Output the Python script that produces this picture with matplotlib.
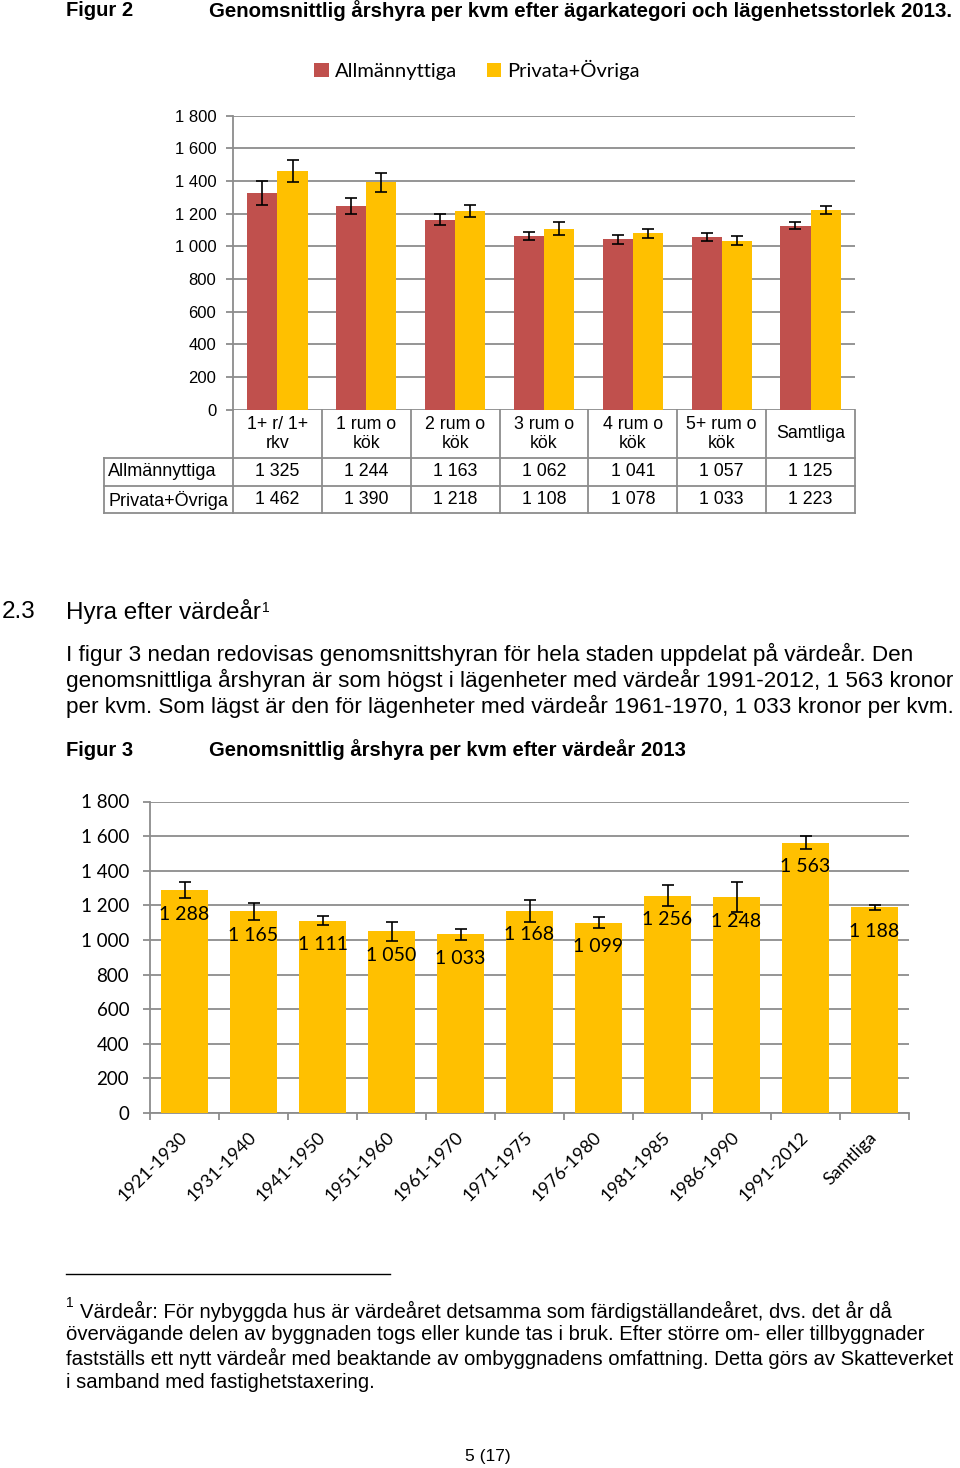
import matplotlib
matplotlib.use("Agg")
import matplotlib.pyplot as plt
import matplotlib.transforms as mtransforms
from matplotlib import font_manager

# ---------------- data ----------------
cats1 = ["1+ r/ 1+\nrkv", "1 rum o\nkök", "2 rum o\nkök", "3 rum o\nkök",
         "4 rum o\nkök", "5+ rum o\nkök", "Samtliga"]
allm = [1325, 1244, 1163, 1062, 1041, 1057, 1125]
priv = [1462, 1390, 1218, 1108, 1078, 1033, 1223]
allm_err = [75, 50, 35, 25, 30, 23, 20]
priv_err = [67, 58, 37, 37, 28, 27, 23]
series1 = ["Allmännyttiga", "Privata+Övriga"]

cats2 = ["1921-1930", "1931-1940", "1941-1950", "1951-1960", "1961-1970",
         "1971-1975", "1976-1980", "1981-1985", "1986-1990", "1991-2012", "Samtliga"]
vals2 = [1288, 1165, 1111, 1050, 1033, 1168, 1099, 1256, 1248, 1563, 1188]
err2 = [45, 50, 27, 54, 33, 65, 32, 62, 84, 35, 16]

yticks = [0, 200, 400, 600, 800, 1000, 1200, 1400, 1600, 1800]

RED = "#C0504D"
YEL = "#FFC000"
GRID = "#8c8c8c"

names = {f.name for f in font_manager.fontManager.ttflist}
ARIAL = "Liberation Sans"
NARROW = "Liberation Sans Narrow" if "Liberation Sans Narrow" in names else "Liberation Sans"
CAL = "Lato"


def fmt(v):
    return f"{int(v):,}".replace(",", " ")


W, H = 960, 1468
fig = plt.figure(figsize=(W / 100, H / 100), dpi=100)


def add_ax(l, t, r, b):
    return fig.add_axes([l / W, 1 - b / H, (r - l) / W, (b - t) / H])


# overlay in pixel coordinates
ov = fig.add_axes([0, 0, 1, 1], zorder=5)
ov.set_xlim(0, W)
ov.set_ylim(H, 0)
ov.axis("off")

# ---------------- Figure 2 ----------------
ax1 = add_ax(233, 115.5, 855, 409.5)
x1 = list(range(len(cats1)))
bw = 0.34
b_a = ax1.bar([i - bw / 2 for i in x1], allm, bw, color=RED, zorder=3, label=series1[0])
b_p = ax1.bar([i + bw / 2 for i in x1], priv, bw, color=YEL, zorder=3, label=series1[1])
ax1.errorbar([i - bw / 2 for i in x1], allm, yerr=allm_err, fmt="none", ecolor="black",
             elinewidth=1.2, capsize=4, capthick=1.2, zorder=4)
ax1.errorbar([i + bw / 2 for i in x1], priv, yerr=priv_err, fmt="none", ecolor="black",
             elinewidth=1.2, capsize=4, capthick=1.2, zorder=4)
ax1.set_xlim(-0.5, len(cats1) - 0.5)
ax1.set_ylim(0, 1800)
ax1.set_yticks(yticks)
ax1.set_yticklabels([fmt(v) for v in yticks], fontfamily=ARIAL, fontsize=12)
ax1.set_xticks([])
ax1.yaxis.grid(True, color=GRID, lw=1.3)
ax1.set_axisbelow(True)
for s in ["top", "right", "bottom"]:
    ax1.spines[s].set_visible(False)
ax1.spines["left"].set_color(GRID)
ax1.spines["left"].set_linewidth(1.3)
ax1.tick_params(axis="y", length=5, color=GRID, width=1.3, pad=7)

leg = ax1.legend(handles=[b_a, b_p], loc="center", bbox_to_anchor=(477 / W, 1 - 70 / H),
                 bbox_transform=fig.transFigure, ncol=2, frameon=False,
                 prop={"family": CAL, "size": 14.5}, handlelength=0.7, handleheight=0.7,
                 handletextpad=0.3, columnspacing=1.5)

# data table under chart
bt = mtransforms.blended_transform_factory(ax1.transData, ov.transData)
n1 = len(cats1)
for i in range(n1 + 1):
    ov.plot([i - 0.5, i - 0.5], [410, 512.5], color=GRID, lw=1.3, transform=bt, clip_on=False)
for yy in [457.5, 486, 512.5]:
    ov.plot([104, 233], [yy, yy], color=GRID, lw=1.3, clip_on=False)
    ov.plot([-0.5, n1 - 0.5], [yy, yy], color=GRID, lw=1.3, transform=bt, clip_on=False)
ov.plot([104, 104], [457.5, 512.5], color=GRID, lw=1.3, clip_on=False)
for i, c in enumerate(cats1):
    ov.text(i, 434, c, transform=bt, ha="center", va="center", fontfamily=ARIAL,
            fontsize=12.8, linespacing=1.15)
    ov.text(i, 472, fmt(allm[i]), transform=bt, ha="center", va="center",
            fontfamily=ARIAL, fontsize=12.8)
    ov.text(i, 500, fmt(priv[i]), transform=bt, ha="center", va="center",
            fontfamily=ARIAL, fontsize=12.8)
ov.text(108, 472, series1[0], ha="left", va="center", fontfamily=ARIAL, fontsize=13)
ov.text(108, 500, series1[1], ha="left", va="center", fontfamily=ARIAL, fontsize=13)

# ---------------- Figure 3 ----------------
ax2 = add_ax(150, 801.5, 909, 1113)
x2 = list(range(len(cats2)))
ax2.bar(x2, vals2, 0.667, color=YEL, zorder=3)
ax2.errorbar(x2, vals2, yerr=err2, fmt="none", ecolor="black", elinewidth=1.2,
             capsize=4, capthick=1.2, zorder=4)
for xi, v in zip(x2, vals2):
    ax2.annotate(fmt(v), (xi, v), xytext=(0, -24), textcoords="offset pixels",
                 ha="center", va="center", fontfamily=CAL, fontsize=14, zorder=5)
ax2.set_xlim(-0.5, len(cats2) - 0.5)
ax2.set_ylim(0, 1800)
ax2.set_yticks(yticks)
ax2.set_yticklabels([fmt(v) for v in yticks], fontfamily=CAL, fontsize=13.5)
ax2.set_xticks([i - 0.5 for i in range(len(cats2) + 1)])
ax2.set_xticklabels([])
ax2.yaxis.grid(True, color=GRID, lw=1.3)
ax2.set_axisbelow(True)
for s in ["top", "right"]:
    ax2.spines[s].set_visible(False)
for s in ["left", "bottom"]:
    ax2.spines[s].set_color(GRID)
    ax2.spines[s].set_linewidth(1.3)
ax2.tick_params(axis="y", length=5, color=GRID, width=1.3, pad=10)
ax2.tick_params(axis="x", length=5, color=GRID, width=1.3, direction="out")
bt2 = mtransforms.blended_transform_factory(ax2.transData, ov.transData)
for xi, c in zip(x2, cats2):
    ov.text(xi + 0.0, 1135, c, transform=bt2, rotation=45, rotation_mode="anchor",
            ha="right", va="center", fontfamily=CAL, fontsize=13)

# ---------------- page text ----------------
ov.text(66, 11, "Figur 2", ha="left", va="center", fontfamily=NARROW, fontweight="bold", fontsize=14.5)
ov.text(209, 11, "Genomsnittlig årshyra per kvm efter ägarkategori och lägenhetsstorlek 2013.",
        ha="left", va="center", fontfamily=NARROW, fontweight="bold", fontsize=14.7)

ov.text(2, 612, "2.3", ha="left", va="center", fontfamily=ARIAL, fontsize=17.5)
t = ov.text(66, 612, "Hyra efter värdeår", ha="left", va="center", fontfamily=ARIAL, fontsize=17.5)
ov.annotate("1", xy=(1, 1), xycoords=t, xytext=(1, -1), textcoords="offset points",
            ha="left", va="top", fontfamily=ARIAL, fontsize=10)

para = ["I figur 3 nedan redovisas genomsnittshyran för hela staden uppdelat på värdeår. Den",
        "genomsnittliga årshyran är som högst i lägenheter med värdeår 1991-2012, 1 563 kronor",
        "per kvm. Som lägst är den för lägenheter med värdeår 1961-1970, 1 033 kronor per kvm."]
for k, line in enumerate(para):
    ov.text(66, 654 + 26 * k, line, ha="left", va="center", fontfamily=ARIAL, fontsize=16.2)

ov.text(66, 750, "Figur 3", ha="left", va="center", fontfamily=ARIAL, fontweight="bold", fontsize=14.5)
ov.text(209, 750, "Genomsnittlig årshyra per kvm efter värdeår 2013", ha="left", va="center",
        fontfamily=ARIAL, fontweight="bold", fontsize=14.6)

ov.plot([66, 390], [1273.5, 1273.5], color="black", lw=1.0)
ov.text(66, 1303, "1", ha="left", va="center", fontfamily=ARIAL, fontsize=10)
foot = [(80, "Värdeår: För nybyggda hus är värdeåret detsamma som färdigställandeåret, dvs. det år då"),
        (66, "övervägande delen av byggnaden togs eller kunde tas i bruk. Efter större om- eller tillbyggnader"),
        (66, "fastställs ett nytt värdeår med beaktande av ombyggnadens omfattning. Detta görs av Skatteverket"),
        (66, "i samband med fastighetstaxering.")]
for k, (xx, line) in enumerate(foot):
    ov.text(xx, 1311 + 23.7 * k, line, ha="left", va="center", fontfamily=ARIAL, fontsize=14.6)

ov.text(488, 1457, "5 (17)", ha="center", va="center", fontfamily=ARIAL, fontsize=12.5)

fig.savefig("out.png", dpi=100)
